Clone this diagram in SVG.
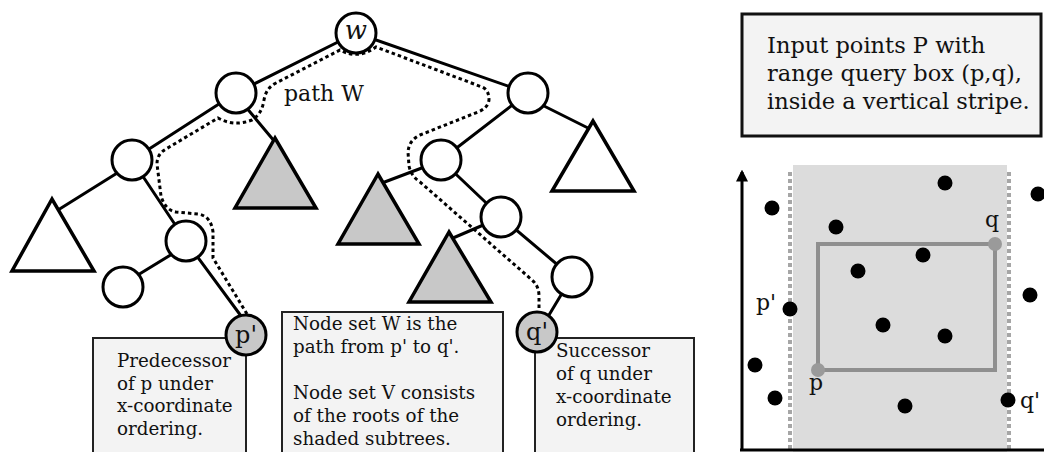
<svg xmlns="http://www.w3.org/2000/svg" width="1044" height="452" viewBox="0 0 1044 452">
  <style>
    .edge { stroke: #000; stroke-width: 3; fill: none; stroke-linecap: round; }
    .path-w { stroke: #000; stroke-width: 3; fill: none; stroke-dasharray: 3.5 3; }
    .node { fill: #fff; stroke: #000; stroke-width: 3; }
    .leaf { fill: #c8c8c8; stroke: #000; stroke-width: 3; }
    .tri { fill: #fff; stroke: #000; stroke-width: 3.5; stroke-linejoin: miter; }
    .tri-shaded { fill: #c8c8c8; stroke: #000; stroke-width: 3.5; stroke-linejoin: miter; }
    .note { fill: #f3f3f3; stroke: #222; stroke-width: 2; }
    .note-big { fill: #f3f3f3; stroke: #111; stroke-width: 3; }
    .txt { font-family: "DejaVu Serif", "Liberation Serif", serif; fill: #111; }
    .small { font-size: 18.3px; }
    .big { font-size: 22.5px; }
    .dot { fill: #000; }
    .corner { fill: #9a9a9a; }
    .stripe-edge { stroke: #a6a6a6; stroke-width: 4; stroke-dasharray: 4 3; fill: none; }
  </style>
  <defs>
    <marker id="axis-head" viewBox="0 0 10 10" refX="8" refY="5" markerWidth="4" markerHeight="4" orient="auto">
      <path d="M0,0 L10,5 L0,10 Z" fill="#000"/>
    </marker>
  </defs>

  <!-- tree edges -->
  <g id="connectors">
    <line class="edge" x1="356" y1="33" x2="236" y2="93"/>
    <line class="edge" x1="356" y1="33" x2="528" y2="93"/>
    <line class="edge" x1="236" y1="93" x2="132" y2="160"/>
    <line class="edge" x1="240" y1="100" x2="275" y2="142"/>
    <line class="edge" x1="122" y1="170" x2="58" y2="210"/>
    <line class="edge" x1="132" y1="160" x2="186" y2="241"/>
    <line class="edge" x1="182" y1="248" x2="128" y2="281"/>
    <line class="edge" x1="188" y1="244" x2="244" y2="320"/>
    <line class="edge" x1="528" y1="93" x2="441" y2="160"/>
    <line class="edge" x1="532" y1="100" x2="588" y2="128"/>
    <line class="edge" x1="435" y1="163" x2="382" y2="183"/>
    <line class="edge" x1="441" y1="160" x2="501" y2="217"/>
    <line class="edge" x1="495" y1="220" x2="453" y2="238"/>
    <line class="edge" x1="501" y1="217" x2="572" y2="277"/>
    <line class="edge" x1="570" y1="280" x2="540" y2="330"/>
  </g>

  <!-- dotted path W from p' up to w and down to q' -->
  <g id="path-w">
    <path class="path-w" d="M247,314 L213,258 L213,232 Q211,216 198,214 L176,212 Q165,210 161,196 L157,164 Q157,154 166,149 L218,118 Q234,127 252,120 Q262,114 264,100 Q266,88 276,83 L340,50 Q358,60 376,47 L482,87 Q489,90 489,100 Q488,108 478,112 L420,135 Q409,140 408,152 L409,166 Q411,176 420,182 L532,280 Q539,286 539,296 L539,314"/>
    <text class="txt" x="284" y="101" font-size="22">path W</text>
  </g>

  <!-- subtrees -->
  <g id="subtree-left"><polygon class="tri" points="52,199 12,271 94,271"/></g>
  <g id="subtree-a"><polygon class="tri-shaded" points="275,138 235,208 316,208"/></g>
  <g id="subtree-f"><polygon class="tri-shaded" points="378,174 338,244 419,244"/></g>
  <g id="subtree-g"><polygon class="tri-shaded" points="449,232 409,302 491,302"/></g>
  <g id="subtree-right"><polygon class="tri" points="593,121 552,191 634,191"/></g>

  <!-- explanatory notes -->
  <g id="note-pred">
    <rect class="note" x="93" y="338" width="153" height="120"/>
    <text class="txt small" x="117" y="367">Predecessor</text>
    <text class="txt small" x="117" y="390">of p under</text>
    <text class="txt small" x="117" y="412">x-coordinate</text>
    <text class="txt small" x="117" y="435">ordering.</text>
  </g>
  <g id="note-sets">
    <rect class="note" x="282" y="312" width="221" height="146"/>
    <text class="txt small" x="293" y="330">Node set W is the</text>
    <text class="txt small" x="293" y="353">path from p' to q'.</text>
    <text class="txt small" x="293" y="399">Node set V consists</text>
    <text class="txt small" x="293" y="422">of the roots of the</text>
    <text class="txt small" x="293" y="445">shaded subtrees.</text>
  </g>
  <g id="note-succ">
    <rect class="note" x="535" y="338" width="159" height="120"/>
    <text class="txt small" x="556" y="357">Successor</text>
    <text class="txt small" x="556" y="380">of q under</text>
    <text class="txt small" x="556" y="403">x-coordinate</text>
    <text class="txt small" x="556" y="426">ordering.</text>
  </g>

  <!-- tree nodes -->
  <g id="node-w">
    <circle class="node" cx="356" cy="33" r="20"/>
    <text class="txt" x="356" y="39" font-size="26" font-style="italic" text-anchor="middle">w</text>
  </g>
  <g id="node-a"><circle class="node" cx="236" cy="93" r="20"/></g>
  <g id="node-b"><circle class="node" cx="528" cy="93" r="20"/></g>
  <g id="node-c"><circle class="node" cx="132" cy="160" r="20"/></g>
  <g id="node-d"><circle class="node" cx="186" cy="241" r="20"/></g>
  <g id="node-e"><circle class="node" cx="123" cy="287" r="20"/></g>
  <g id="node-f"><circle class="node" cx="441" cy="160" r="20"/></g>
  <g id="node-g"><circle class="node" cx="501" cy="217" r="20"/></g>
  <g id="node-h"><circle class="node" cx="572" cy="277" r="20"/></g>
  <g id="node-p-prime">
    <circle class="leaf" cx="246" cy="335" r="20"/>
    <text class="txt" x="246" y="343" font-size="24" text-anchor="middle">p'</text>
  </g>
  <g id="node-q-prime">
    <circle class="leaf" cx="537" cy="332" r="20"/>
    <text class="txt" x="537" y="340" font-size="24" text-anchor="middle">q'</text>
  </g>

  <!-- caption for the plot -->
  <g id="note-plot">
    <rect class="note-big" x="742" y="14" width="299" height="122"/>
    <text class="txt big" x="767" y="53">Input points P with</text>
    <text class="txt big" x="767" y="81">range query box (p,q),</text>
    <text class="txt big" x="767" y="109">inside a vertical stripe.</text>
  </g>

  <!-- point set with query box inside a vertical stripe -->
  <g id="plot">
    <rect x="793" y="165" width="214" height="290" fill="#dcdcdc"/>
    <line class="stripe-edge" x1="790" y1="172" x2="790" y2="452"/>
    <line class="stripe-edge" x1="1009" y1="172" x2="1009" y2="452"/>
    <line x1="742" y1="450" x2="742" y2="172" stroke="#000" stroke-width="3" marker-end="url(#axis-head)"/>
    <line x1="740" y1="450" x2="1044" y2="450" stroke="#000" stroke-width="3"/>
    <rect x="818" y="244" width="177" height="126" fill="none" stroke="#8f8f8f" stroke-width="4"/>
    <circle class="corner" cx="818" cy="370" r="7"/>
    <circle class="corner" cx="995" cy="244" r="7"/>
    <circle class="dot" cx="945" cy="183" r="7.5"/>
    <circle class="dot" cx="772" cy="208" r="7.5"/>
    <circle class="dot" cx="836" cy="227" r="7.5"/>
    <circle class="dot" cx="1038" cy="194" r="7.5"/>
    <circle class="dot" cx="923" cy="255" r="7.5"/>
    <circle class="dot" cx="858" cy="271" r="7.5"/>
    <circle class="dot" cx="790" cy="309" r="7.5"/>
    <circle class="dot" cx="1030" cy="295" r="7.5"/>
    <circle class="dot" cx="883" cy="325" r="7.5"/>
    <circle class="dot" cx="945" cy="336" r="7.5"/>
    <circle class="dot" cx="755" cy="365" r="7.5"/>
    <circle class="dot" cx="775" cy="398" r="7.5"/>
    <circle class="dot" cx="905" cy="406" r="7.5"/>
    <circle class="dot" cx="1008" cy="400" r="7.5"/>
    <text class="txt" x="985" y="227" font-size="22">q</text>
    <text class="txt" x="809" y="390" font-size="22">p</text>
    <text class="txt" x="756" y="310" font-size="22">p'</text>
    <text class="txt" x="1020" y="408" font-size="22">q'</text>
  </g>
</svg>
